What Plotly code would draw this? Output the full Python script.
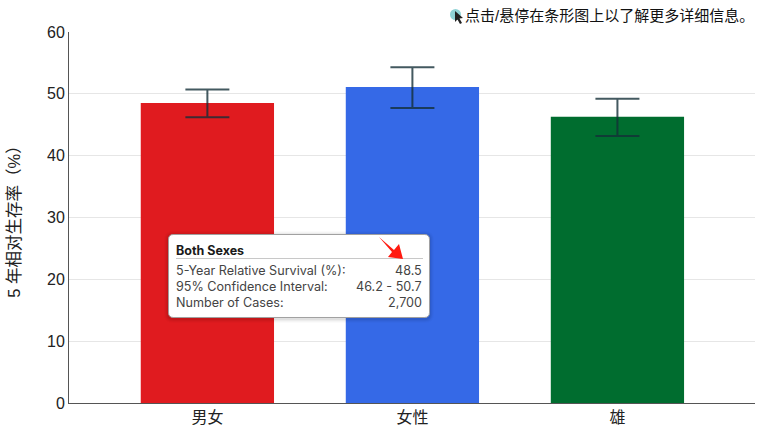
# 5 year relative survival by sex, with hover box drawn as it appears in the page

import plotly.graph_objects as go

# Chart data
categories = ["男女", "女性", "雄"]
survival = [48.5, 51.1, 46.3]
ci_low = [46.2, 47.7, 43.2]
ci_high = [50.7, 54.3, 49.2]
bar_colors = ["#e01b1f", "#3569e7", "#006d2f"]
y_ticks = [0, 10, 20, 30, 40, 50, 60]

# Text
y_title = "5 年相对生存率（%）"
hint_text = "点击/悬停在条形图上以了解更多详细信息。"
tip_title = "Both Sexes"
tip_labels = ["5-Year Relative Survival (%):", "95% Confidence Interval:", "Number of Cases:"]
tip_values = ["48.5", "46.2 - 50.7", "2,700"]

# Page size and plot area, in pixels
width = 758
height = 429
left = 69
right = 755
top = 32
bottom = 403

latin_cjk = "Liberation Sans, Noto Sans CJK SC, sans-serif"
tip_font = "Inter, Noto Sans, sans-serif"


# Pixel position on the page to paper coordinates
def px_x(x):
    return (x - left) / (right - left)


def px_y(y):
    return (bottom - y) / (bottom - top)


def path_of(points):
    return "M " + " L ".join(f"{px_x(x):.5f},{px_y(y):.5f}" for x, y in points) + " Z"


def round_box(x0, y0, x1, y1, r):
    # rounded rectangle with quadratic corners
    return (
        f"M {px_x(x0 + r):.5f},{px_y(y0):.5f} L {px_x(x1 - r):.5f},{px_y(y0):.5f} "
        f"Q {px_x(x1):.5f},{px_y(y0):.5f} {px_x(x1):.5f},{px_y(y0 + r):.5f} "
        f"L {px_x(x1):.5f},{px_y(y1 - r):.5f} "
        f"Q {px_x(x1):.5f},{px_y(y1):.5f} {px_x(x1 - r):.5f},{px_y(y1):.5f} "
        f"L {px_x(x0 + r):.5f},{px_y(y1):.5f} "
        f"Q {px_x(x0):.5f},{px_y(y1):.5f} {px_x(x0):.5f},{px_y(y1 - r):.5f} "
        f"L {px_x(x0):.5f},{px_y(y0 + r):.5f} "
        f"Q {px_x(x0):.5f},{px_y(y0):.5f} {px_x(x0 + r):.5f},{px_y(y0):.5f} Z"
    )


fig = go.Figure(
    go.Bar(
        x=categories,
        y=survival,
        width=0.65,
        marker=dict(color=bar_colors, line=dict(width=0)),
        error_y=dict(
            type="data",
            symmetric=False,
            array=[h - v for h, v in zip(ci_high, survival)],
            arrayminus=[v - l for v, l in zip(survival, ci_low)],
            color="rgba(20,48,56,0.8)",
            thickness=2,
            width=22,
        ),
        hoverinfo="skip",
    )
)

shapes = []

# Soft shadow, then the hover box
for grow, alpha in [(4, 0.015), (3, 0.025), (2, 0.035), (1, 0.05)]:
    shapes.append(
        dict(
            type="path",
            xref="paper",
            yref="paper",
            path=round_box(168 - grow, 234 - grow + 1, 430 + grow, 318 + grow + 1, 5 + grow),
            fillcolor=f"rgba(0,0,0,{alpha})",
            line=dict(width=0),
        )
    )
shapes.append(
    dict(
        type="path",
        xref="paper",
        yref="paper",
        path=round_box(168.5, 234.5, 429.5, 317.5, 5),
        fillcolor="white",
        line=dict(color="#a0a0a0", width=1),
    )
)

# Line under the box title
shapes.append(
    dict(
        type="line",
        xref="paper",
        yref="paper",
        x0=px_x(176),
        x1=px_x(423),
        y0=px_y(258.5),
        y1=px_y(258.5),
        line=dict(color="#c8c8c8", width=1),
    )
)

# Red arrow over the box
shapes.append(
    dict(
        type="path",
        xref="paper",
        yref="paper",
        path=path_of([(379, 237), (394, 250), (399, 244), (403, 259), (388, 257), (392, 252)]),
        fillcolor="#ff1a10",
        line=dict(width=0),
    )
)

# Cursor icon next to the hint
shapes.append(
    dict(
        type="circle",
        xref="paper",
        yref="paper",
        x0=px_x(450),
        x1=px_x(461),
        y0=px_y(9),
        y1=px_y(20),
        fillcolor="#8fd3d6",
        line=dict(width=0),
    )
)
shapes.append(
    dict(
        type="path",
        xref="paper",
        yref="paper",
        path=path_of([(455, 11), (463, 18), (459.5, 18.5), (462, 23), (460, 24), (457.5, 19.5), (455, 22)]),
        fillcolor="#222222",
        line=dict(width=0),
    )
)

annotations = [
    dict(
        xref="paper",
        yref="paper",
        x=px_x(756),
        y=px_y(16),
        text=hint_text,
        showarrow=False,
        xanchor="right",
        yanchor="middle",
        font=dict(family=latin_cjk, size=15, color="#111111"),
    ),
    dict(
        xref="paper",
        yref="paper",
        x=px_x(174),
        y=px_y(250),
        text=f"<b>{tip_title}</b>",
        showarrow=False,
        xanchor="left",
        yanchor="middle",
        font=dict(family=tip_font, size=12.5, color="#1a1a1a"),
    ),
]
row_y = [270, 286, 302]
for label, value, y in zip(tip_labels, tip_values, row_y):
    annotations.append(
        dict(
            xref="paper",
            yref="paper",
            x=px_x(174),
            y=px_y(y),
            text=label,
            showarrow=False,
            xanchor="left",
            yanchor="middle",
            font=dict(family=tip_font, size=12.6, color="#444444"),
        )
    )
    annotations.append(
        dict(
            xref="paper",
            yref="paper",
            x=px_x(424),
            y=px_y(y),
            text=value,
            showarrow=False,
            xanchor="right",
            yanchor="middle",
            font=dict(family=tip_font, size=12.6, color="#444444"),
        )
    )

fig.update_layout(
    width=width,
    height=height,
    margin=dict(l=left, r=width - right, t=top, b=height - bottom, pad=0),
    paper_bgcolor="white",
    plot_bgcolor="white",
    showlegend=False,
    shapes=shapes,
    annotations=annotations,
    font=dict(family=latin_cjk, color="#222222"),
    xaxis=dict(
        type="category",
        range=[-0.675, 2.671],
        showgrid=False,
        showline=True,
        linecolor="#555555",
        linewidth=1,
        ticks="",
        tickfont=dict(size=16, color="#222222"),
    ),
    yaxis=dict(
        range=[0, 60],
        tickvals=y_ticks,
        showgrid=True,
        gridcolor="#e6e6e6",
        gridwidth=1,
        zeroline=False,
        showline=True,
        linecolor="#555555",
        linewidth=1,
        ticks="",
        tickfont=dict(size=16, color="#222222"),
        title=dict(text=y_title, font=dict(size=16.5, color="#222222"), standoff=22),
    ),
)

fig.write_html(
    "out.html",
    config={"displayModeBar": False},
    post_script="document.body.style.margin='0';",
)
